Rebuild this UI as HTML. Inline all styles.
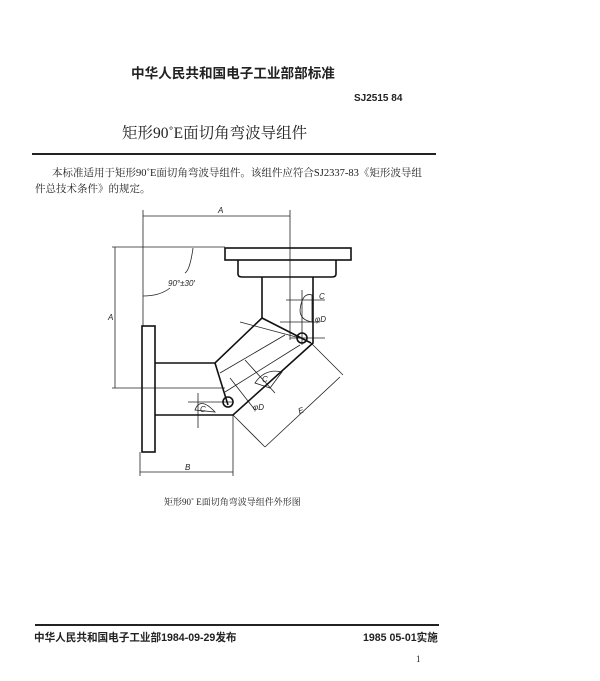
<!DOCTYPE html>
<html><head><meta charset="utf-8"><style>
html,body{margin:0;padding:0;background:#fff;width:600px;height:681px;overflow:hidden}
body{position:relative;font-family:"Liberation Serif","Noto Serif CJK SC",serif;color:#222}
.a{position:absolute;white-space:nowrap}
.b{font-family:"Liberation Sans","Noto Sans CJK SC",sans-serif;font-weight:bold}
</style></head><body>
<div class="a b" style="left:131px;top:62px;font-size:13.6px">中华人民共和国电子工业部部标准</div>
<div class="a b" style="left:354px;top:93px;font-size:10px">SJ2515 84</div>
<div class="a" style="left:122px;top:121px;font-size:15.5px">矩形90˚E面切角弯波导组件</div>
<div class="a" style="left:32px;top:153px;width:404px;height:2px;background:#222"></div>
<div class="a" style="left:52px;top:165px;font-size:10.5px">本标准适用于矩形90˚E面切角弯波导组件。该组件应符合SJ2337-83《矩形波导组</div>
<div class="a" style="left:35px;top:181px;font-size:10.5px">件总技术条件》的规定。</div>
<svg class="a" style="left:0;top:0" width="600" height="681" viewBox="0 0 600 681">
<g stroke="#222" fill="none" stroke-width="0.8">
<line x1="143" y1="210" x2="143" y2="326"/>
<line x1="290" y1="210" x2="290" y2="340"/>
<line x1="143" y1="216" x2="290" y2="216"/>
<line x1="112" y1="247" x2="225" y2="247"/>
<line x1="115" y1="247" x2="115" y2="388"/>
<line x1="112" y1="388" x2="225" y2="388"/>
<line x1="140" y1="472" x2="233" y2="472"/>
<line x1="140" y1="452" x2="140" y2="476"/>
<line x1="233" y1="415" x2="233" y2="476"/>
<line x1="311" y1="343" x2="343" y2="375"/>
<line x1="233" y1="415" x2="265" y2="447"/>
<line x1="340" y1="377" x2="265" y2="447"/>
<path d="M193 248 Q190 270 185 273"/>
<path d="M143 296 Q160 296 170 288"/>
<line x1="286" y1="300" x2="325" y2="300"/>
<line x1="280" y1="322" x2="320" y2="322"/>
<line x1="290" y1="338" x2="325" y2="338"/>
<line x1="302" y1="290" x2="302" y2="345"/>
<line x1="188" y1="402" x2="232" y2="402"/>
<line x1="198" y1="393" x2="198" y2="428"/>
<line x1="240" y1="322" x2="300" y2="338"/>
<line x1="220" y1="373" x2="285" y2="335"/>
<line x1="225" y1="392" x2="300" y2="345"/>
<line x1="245" y1="360" x2="275" y2="393"/>
<line x1="230" y1="378" x2="255" y2="410"/>
<path d="M195 410 Q200 396 215 412 Z"/>
<path d="M300 310 Q302 292 312 295 L312 322 Q300 320 300 310Z"/>
<path d="M255 383 Q265 368 282 372 L270 388Z"/>
</g>
<g stroke="#111" fill="none" stroke-width="1.6">
<rect x="225" y="248" width="126" height="12"/>
<path d="M238 260 L238 274 Q238 277 242 277 L332 277 Q336 277 336 274 L336 260"/>
<path d="M262 277 L262 318 L215 363 L155 363"/>
<path d="M313 277 L313 343 L233 415 L155 415"/>
<path d="M262 318 L311 343"/>
<path d="M215 363 L228 405"/>
<rect x="142" y="326" width="13" height="126"/>
<circle cx="302" cy="338" r="5"/>
<circle cx="228" cy="402" r="5"/>
</g>
<g font-family="Liberation Sans, sans-serif" font-style="italic" font-size="8" fill="#222">
<text x="218" y="213">A</text>
<text x="185" y="470">B</text>
<text x="298" y="413" transform="rotate(-20 301 410)">E</text>
<text x="168" y="286">90°±30′</text>
<text x="319" y="299">C</text>
<text x="315" y="322">φD</text>
<text x="262" y="382">C</text>
<text x="253" y="410">φD</text>
<text x="200" y="412">C</text>
<text x="108" y="320">A</text>
</g>
</svg>
<div class="a" style="left:164px;top:495px;font-size:9px">矩形90˚ E面切角弯波导组件外形图</div>
<div class="a" style="left:35px;top:624px;width:404px;height:1.5px;background:#222"></div>
<div class="a b" style="left:34px;top:630px;font-size:10.6px">中华人民共和国电子工业部1984-09-29发布</div>
<div class="a b" style="left:363px;top:630px;font-size:10.6px">1985 05-01实施</div>
<div class="a" style="left:416px;top:654px;font-size:9px">1</div>
</body></html>
